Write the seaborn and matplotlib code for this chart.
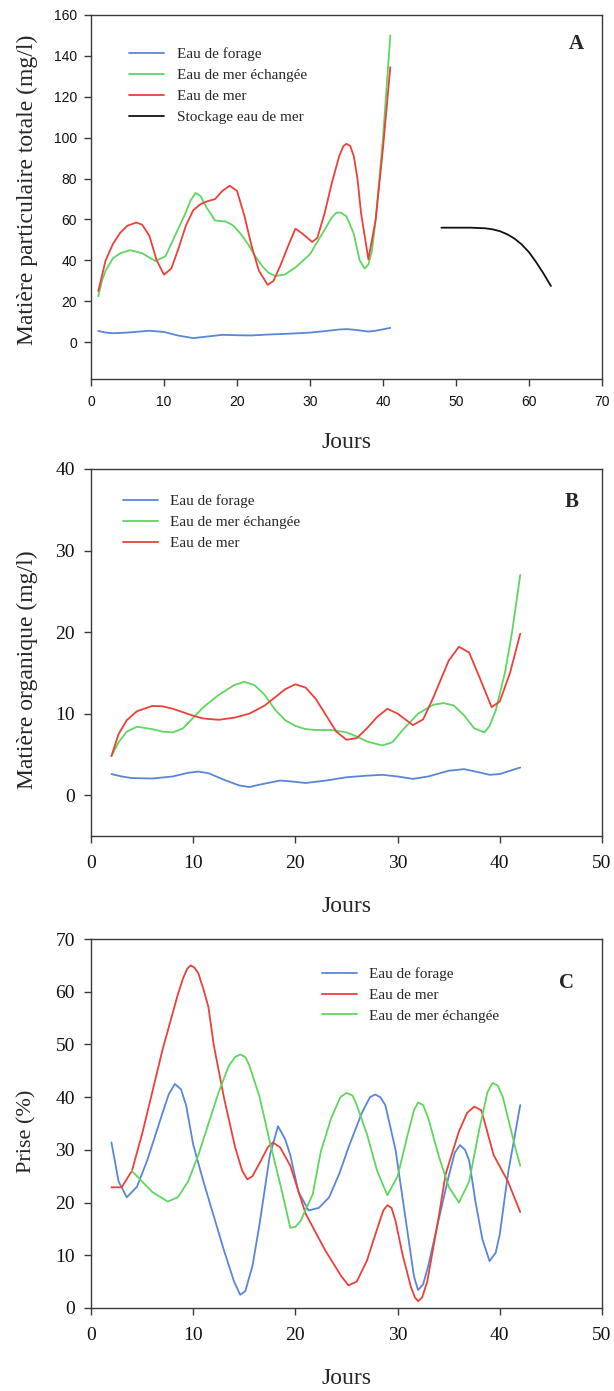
import numpy as np
import pandas as pd
import matplotlib
matplotlib.use("Agg")
import matplotlib.pyplot as plt
import seaborn as sns

# ---------------- Panel A data ----------------
a_forage_x = [1, 2, 3, 5, 7, 8, 10, 12, 14, 16, 18, 20, 22, 24, 26, 28, 30, 32, 34, 35, 36, 38, 39, 41]
a_forage_y = [5.5, 4.7, 4.4, 4.7, 5.3, 5.6, 5.0, 3.2, 2.0, 2.8, 3.6, 3.4, 3.3, 3.7, 4.0, 4.3, 4.7, 5.4, 6.2, 6.4, 6.1, 5.2, 5.6, 7.0]
a_echange_x = [1, 1.5, 2, 3, 4, 5.4, 7, 8.8, 10.2, 11.5, 12.8, 13.6, 14.3, 15, 15.8, 17, 18.5, 19.5, 20.5, 21.5, 22.5, 23.5, 24.3, 25.2, 26.5, 28, 30, 31, 32, 33, 33.6, 34.2, 35, 36, 36.8, 37.5, 38, 38.5, 39, 40, 41]
a_echange_y = [22.5, 30, 35, 41, 43.5, 45, 43.5, 39.7, 42, 52, 62, 69, 73, 71.5, 66, 59.5, 59, 57, 53, 48, 42, 37, 34, 32.4, 33, 36.5, 43, 49, 55, 61, 63.3, 63.4, 61.5, 53, 40, 36, 38, 45, 60, 100, 150]
a_mer_x = [1, 2, 3, 4, 5, 6.2, 7, 8, 9, 10, 11, 12, 13, 14, 15, 16, 17, 18, 19, 20, 21, 22, 23, 24.2, 25, 26, 27, 28, 29, 30.3, 31, 32, 33, 34, 34.6, 35, 35.5, 36, 36.5, 37, 38, 39, 40, 41]
a_mer_y = [25, 40, 48, 53.5, 57, 58.5, 57.5, 52, 40, 33, 36, 46, 57, 64.5, 67.5, 69, 70, 74, 76.5, 74, 62, 47, 35, 28, 30, 38, 47, 55.5, 53, 49, 51, 63, 78, 91, 96, 97, 96, 91, 80, 63, 40.5, 60, 95, 134.5]
a_stock_x = [48, 50, 52, 54, 55, 56, 57, 58, 59, 60, 61, 62, 63]
a_stock_y = [56, 56, 56, 55.7, 55.2, 54.3, 52.8, 50.7, 47.8, 44, 39, 33.5, 27.5]

# ---------------- Panel B data ----------------
b_forage_x = [2, 3, 4, 6, 8, 9.5, 10.5, 11.5, 13, 14.5, 15.5, 16.5, 18.5, 19.5, 21, 23, 25, 27, 28.5, 30, 31.5, 33, 35, 36.5, 38, 39, 40, 42]
b_forage_y = [2.6, 2.3, 2.1, 2.05, 2.3, 2.75, 2.9, 2.7, 1.9, 1.2, 1.0, 1.3, 1.8, 1.7, 1.5, 1.8, 2.2, 2.4, 2.5, 2.3, 2.0, 2.3, 3.0, 3.2, 2.8, 2.5, 2.6, 3.4]
b_echange_x = [2, 2.7, 3.5, 4.5, 6, 7, 8, 9, 10, 11, 12.5, 14, 15, 16, 17, 18, 19, 20, 21, 22, 23.5, 25, 26, 27, 28.5, 29.5, 30.5, 32, 33.5, 34.5, 35.5, 36.5, 37.5, 38.5, 39, 39.6, 40.5, 41.2, 42]
b_echange_y = [4.8, 6.5, 7.8, 8.4, 8.1, 7.8, 7.7, 8.2, 9.5, 10.8, 12.3, 13.5, 13.9, 13.5, 12.3, 10.5, 9.2, 8.5, 8.1, 8.0, 8.0, 7.7, 7.2, 6.6, 6.1, 6.5, 8.0, 10.0, 11.1, 11.3, 11.0, 9.8, 8.2, 7.7, 8.5, 10.4, 15, 20, 27]
b_mer_x = [2, 2.7, 3.5, 4.5, 6, 7, 8, 10, 11, 12.5, 14, 15.5, 17, 18, 19, 20, 21, 22, 23, 24, 25, 26, 27, 28, 29, 30, 31.5, 32.5, 33.5, 35, 36, 37, 38, 39.2, 40, 41, 42]
b_mer_y = [4.8, 7.5, 9.2, 10.3, 10.95, 10.9, 10.6, 9.75, 9.4, 9.25, 9.5, 10.0, 11.0, 12.0, 13.0, 13.6, 13.2, 11.8, 9.8, 7.8, 6.8, 7.0, 8.2, 9.6, 10.6, 10.0, 8.6, 9.3, 12.0, 16.5, 18.2, 17.5, 14.5, 10.8, 11.5, 15.0, 19.8]

# ---------------- Panel C data ----------------
c_forage_x = [2, 2.7, 3.5, 4.5, 5.5, 7, 7.6, 8.2, 8.8, 9.3, 10, 11, 12, 13, 14, 14.6, 15.1, 15.8, 16.5, 17.5, 18.3, 19, 19.5, 20.3, 21.3, 22.3, 23.3, 24.3, 25.2, 26.5, 27.3, 27.8, 28.3, 28.8, 29.8, 31, 31.6, 32, 32.5, 33, 34, 35, 35.6, 36.1, 36.6, 37, 37.6, 38.3, 39, 39.6, 40, 40.8, 42]
c_forage_y = [31.4, 24, 21, 23, 28, 37, 40.5, 42.5, 41.5, 38.5, 31, 24, 17.5, 11, 5, 2.5, 3.2, 8, 16, 29, 34.5, 32, 29, 22, 18.5, 19, 21, 25.5, 30.5, 37, 40, 40.5, 40, 38.5, 30, 14, 6, 3.4, 4.5, 8, 16.6, 25, 29.5, 30.9, 30, 28, 20.4, 13, 8.9, 10.5, 14, 25.5, 38.5]
c_mer_x = [2, 3, 4, 5, 6, 7, 8, 8.5, 9, 9.4, 9.75, 10.1, 10.5, 11, 11.5, 12, 13, 14.1, 14.8, 15.3, 15.8, 16.5, 17.3, 17.8, 18.5, 19.5, 21, 22.9, 24.5, 25.2, 26, 27, 28, 28.6, 29, 29.4, 29.8, 30.5, 31.3, 31.7, 32, 32.4, 32.9, 34, 34.7, 36, 36.8, 37.5, 38.2, 39.4, 40.8, 42]
c_mer_y = [22.9, 22.9, 26, 33, 41, 49, 56, 59.5, 62.5, 64.3, 65, 64.6, 63.5, 60.5, 57, 50, 40, 30.5, 26, 24.4, 25, 27.5, 30.5, 31.4, 30.5, 27, 17.9, 11, 6, 4.3, 5, 9, 15, 18.5, 19.5, 19, 16.5, 10, 4, 2, 1.3, 2, 5, 17, 25.4, 33.5, 37, 38.2, 37.5, 29, 24, 18.2]
c_echange_x = [4, 5, 6, 7.5, 8.5, 9.5, 10.5, 11.5, 12.5, 13.5, 14.1, 14.6, 15.1, 15.5, 16.5, 17.5, 18.7, 19.5, 20, 20.5, 21.7, 22.5, 23.5, 24.4, 25, 25.6, 26, 27, 28, 29, 30, 31, 31.6, 32, 32.5, 33, 34, 35, 36, 37, 38, 38.8, 39.3, 39.8, 40.3, 41.6, 42]
c_echange_y = [26, 24, 22, 20.2, 21, 24, 29, 35, 41, 46, 47.6, 48.1, 47.6, 46, 40, 31.5, 22, 15.2, 15.4, 16.5, 21.6, 29.8, 36, 40, 40.8, 40.3, 38.5, 33, 26, 21.4, 25, 33, 37.5, 39, 38.5, 36, 29, 23, 20, 24, 34, 41, 42.7, 42.2, 40, 29.8, 27]

LBL_FORAGE = "Eau de forage"
LBL_ECH = "Eau de mer échangée"
LBL_MER = "Eau de mer"
LBL_STOCK = "Stockage eau de mer"

C_BLUE = "#5a86d8"
C_GREEN = "#5fd65f"
C_RED = "#ec4039"
C_BLACK = "#111111"
palette = {LBL_FORAGE: C_BLUE, LBL_ECH: C_GREEN, LBL_MER: C_RED, LBL_STOCK: C_BLACK}


def long_df(series):
    frames = []
    for name, xs, ys in series:
        frames.append(pd.DataFrame({"Jours": xs, "val": ys, "serie": name}))
    return pd.concat(frames, ignore_index=True)


sns.set_style("ticks")
plt.rcParams["font.family"] = ["Liberation Serif", "DejaVu Serif"]
plt.rcParams["axes.edgecolor"] = "#3a3a3a"
plt.rcParams["axes.linewidth"] = 1.0
plt.rcParams["xtick.color"] = "#3a3a3a"
plt.rcParams["ytick.color"] = "#3a3a3a"
plt.rcParams["xtick.labelcolor"] = "#111111"
plt.rcParams["ytick.labelcolor"] = "#111111"

fig = plt.figure(figsize=(6.14, 13.91), dpi=100)
H = 1391.0
W = 614.0


def axes_at(left, top, right, bottom):
    return fig.add_axes([left / W, 1 - bottom / H, (right - left) / W, (bottom - top) / H])


axA = axes_at(91, 15, 602, 379)
axB = axes_at(91, 469, 602, 836)
axC = axes_at(91, 939, 602, 1308)

dfA = long_df([(LBL_FORAGE, a_forage_x, a_forage_y), (LBL_ECH, a_echange_x, a_echange_y),
               (LBL_MER, a_mer_x, a_mer_y), (LBL_STOCK, a_stock_x, a_stock_y)])
dfB = long_df([(LBL_FORAGE, b_forage_x, b_forage_y), (LBL_ECH, b_echange_x, b_echange_y),
               (LBL_MER, b_mer_x, b_mer_y)])
dfC = long_df([(LBL_FORAGE, c_forage_x, c_forage_y), (LBL_MER, c_mer_x, c_mer_y),
               (LBL_ECH, c_echange_x, c_echange_y)])

orders = {
    "A": [LBL_FORAGE, LBL_ECH, LBL_MER, LBL_STOCK],
    "B": [LBL_FORAGE, LBL_ECH, LBL_MER],
    "C": [LBL_FORAGE, LBL_MER, LBL_ECH],
}

for ax, df, key in [(axA, dfA, "A"), (axB, dfB, "B"), (axC, dfC, "C")]:
    sns.lineplot(data=df, x="Jours", y="val", hue="serie", hue_order=orders[key],
                 palette=palette, estimator=None, sort=False, linewidth=1.3, ax=ax)
    for s in ax.spines.values():
        s.set_visible(True)
    ax.tick_params(direction="out", length=5, width=1.0)
    ax.set_xlabel("")
    ax.set_ylabel("")

# Panel A
axA.set_xlim(0, 70)
axA.set_ylim(-18, 160)
axA.set_xticks(range(0, 71, 10))
axA.set_yticks(range(0, 161, 20))
axA.tick_params(axis="x", pad=6.5)
axA.tick_params(axis="y", pad=5)
for lab in axA.get_xticklabels() + axA.get_yticklabels():
    lab.set_fontfamily(["Liberation Sans", "DejaVu Sans"])
    lab.set_fontsize(10)
axA.text(0.95, 0.92, "A", transform=axA.transAxes, fontsize=15, fontweight="bold", ha="center", va="center")

# Panel B
axB.set_xlim(0, 50)
axB.set_ylim(-5, 40)
axB.set_xticks(range(0, 51, 10))
axB.set_yticks(range(0, 41, 10))
axB.tick_params(labelsize=14)
axB.tick_params(axis="x", pad=8.5)
axB.tick_params(axis="y", pad=6.5)
axB.text(0.94, 0.91, "B", transform=axB.transAxes, fontsize=15, fontweight="bold", ha="center", va="center")

# Panel C
axC.set_xlim(0, 50)
axC.set_ylim(0, 70)
axC.set_xticks(range(0, 51, 10))
axC.set_yticks(range(0, 71, 10))
axC.tick_params(labelsize=14)
axC.tick_params(axis="x", pad=8.5)
axC.tick_params(axis="y", pad=6.5)
axC.text(0.93, 0.88, "C", transform=axC.transAxes, fontsize=15, fontweight="bold", ha="center", va="center")

# Axis titles
XC = 346.5 / W
fig.text(XC, 1 - 442 / H, "Jours", fontsize=17, ha="center", va="center")
fig.text(XC, 1 - 907 / H, "Jours", fontsize=17, ha="center", va="center")
fig.text(XC, 1 - 1378 / H, "Jours", fontsize=17, ha="center", va="center")
fig.text(27 / W, 1 - 190 / H, "Matière particulaire totale (mg/l)", fontsize=17, rotation=90, ha="center", va="center")
fig.text(27 / W, 1 - 670 / H, "Matière organique (mg/l)", fontsize=17, rotation=90, ha="center", va="center")
fig.text(27 / W, 1 - 1131 / H, "Prise (%)", fontsize=16, rotation=90, ha="center", va="center")

# Legends
legend_pos = {"A": (0.063, 0.927), "B": (0.05, 0.947), "C": (0.44, 0.94)}
for ax, key in [(axA, "A"), (axB, "B"), (axC, "C")]:
    handles, labels = ax.get_legend_handles_labels()
    ax.legend(handles, labels, loc="upper left", bbox_to_anchor=legend_pos[key], frameon=False,
              fontsize=11, handlelength=2.3, handletextpad=0.8, labelspacing=0.47,
              borderaxespad=0.0)

fig.savefig("out.png", dpi=100)
